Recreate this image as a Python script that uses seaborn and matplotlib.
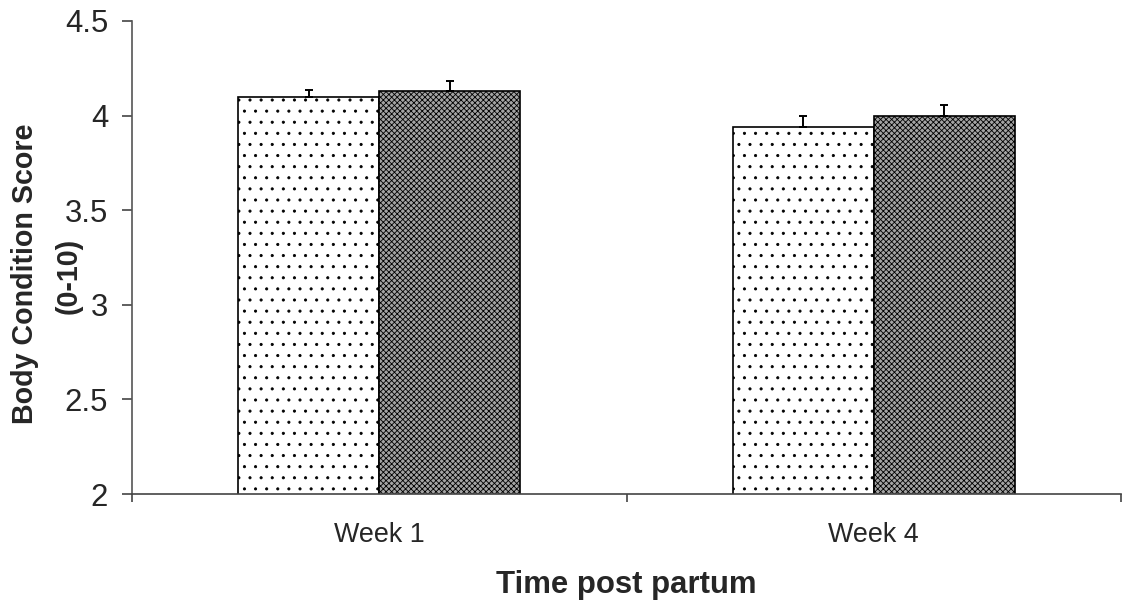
import numpy as np
import pandas as pd
import matplotlib
matplotlib.use("Agg")
import matplotlib.pyplot as plt
import seaborn as sns

# Body condition score by week post partum, two groups
weeks = ["Week 1", "Week 4"]
groups = ["Group A", "Group B"]
bcs_group_a = [4.10, 3.94]
bcs_group_b = [4.13, 4.00]
sem_group_a = [0.035, 0.058]
sem_group_b = [0.051, 0.056]
y_ticks = [2, 2.5, 3, 3.5, 4, 4.5]
y_tick_labels = ["2", "2.5", "3", "3.5", "4", "4.5"]

df = pd.DataFrame({
    "Week": weeks * 2,
    "Group": [groups[0]] * 2 + [groups[1]] * 2,
    "BCS": bcs_group_a + bcs_group_b,
})
errors = {groups[0]: sem_group_a, groups[1]: sem_group_b}

sns.set_theme(style="ticks")
plt.rcParams["font.family"] = ["Liberation Sans", "DejaVu Sans"]
plt.rcParams["hatch.linewidth"] = 0.3

DPI = 200
fig = plt.figure(figsize=(1123 / DPI, 605 / DPI), dpi=DPI)
ax = fig.add_axes([132 / 1123, 1 - 494 / 605, 989 / 1123, 473 / 605])

sns.barplot(data=df, x="Week", y="BCS", hue="Group", hue_order=groups,
            palette=["white", "#a4a4a4"], edgecolor="black", linewidth=0.6,
            width=0.57, errorbar=None, legend=False, saturation=1, ax=ax)

hatches = ["...", "xxxxxxxxxxxx"]
for container, hatch, grp in zip(ax.containers, hatches, groups):
    for bar, err in zip(container, errors[grp]):
        bar.set_hatch(hatch)
        bar.set_edgecolor("black")
        xc = bar.get_x() + bar.get_width() / 2
        ax.errorbar(xc, bar.get_height(), yerr=[[0], [err]], fmt="none",
                    ecolor="black", elinewidth=0.7, capsize=1.6,
                    capthick=0.7, zorder=1)

ax.set_ylim(2, 4.5)
ax.set_xlim(-0.5, 1.5)
ax.set_yticks(y_ticks)
ax.set_yticklabels(y_tick_labels)
ax.tick_params(axis="y", labelsize=11.2, length=3.6, width=0.6,
               color="#444444", pad=5, direction="out")
ax.tick_params(axis="x", which="major", labelsize=9.7, length=0, pad=10)
ax.set_xticks([-0.5, 0.5, 1.5], minor=True)
ax.tick_params(axis="x", which="minor", length=3, width=0.6,
               color="#444444", direction="out")

for side in ["top", "right"]:
    ax.spines[side].set_visible(False)
ax.spines["left"].set_color("#555555")
ax.spines["left"].set_linewidth(0.6)
ax.spines["bottom"].set_color("#444444")
ax.spines["bottom"].set_linewidth(0.6)

ax.set_xlabel("Time post partum", fontsize=11.2, fontweight="bold", labelpad=8)
ax.set_ylabel("")

# Two-line y-axis title, each line placed on its own
ax.text(-0.108, 0.465, "Body Condition Score", transform=ax.transAxes,
        rotation=90, ha="center", va="center", fontsize=10.3,
        fontweight="bold")
ax.text(-0.064, 0.46, "(0-10)", transform=ax.transAxes,
        rotation=90, ha="center", va="center", fontsize=10.3,
        fontweight="bold")

fig.savefig("out.png", dpi=DPI, facecolor="white")
